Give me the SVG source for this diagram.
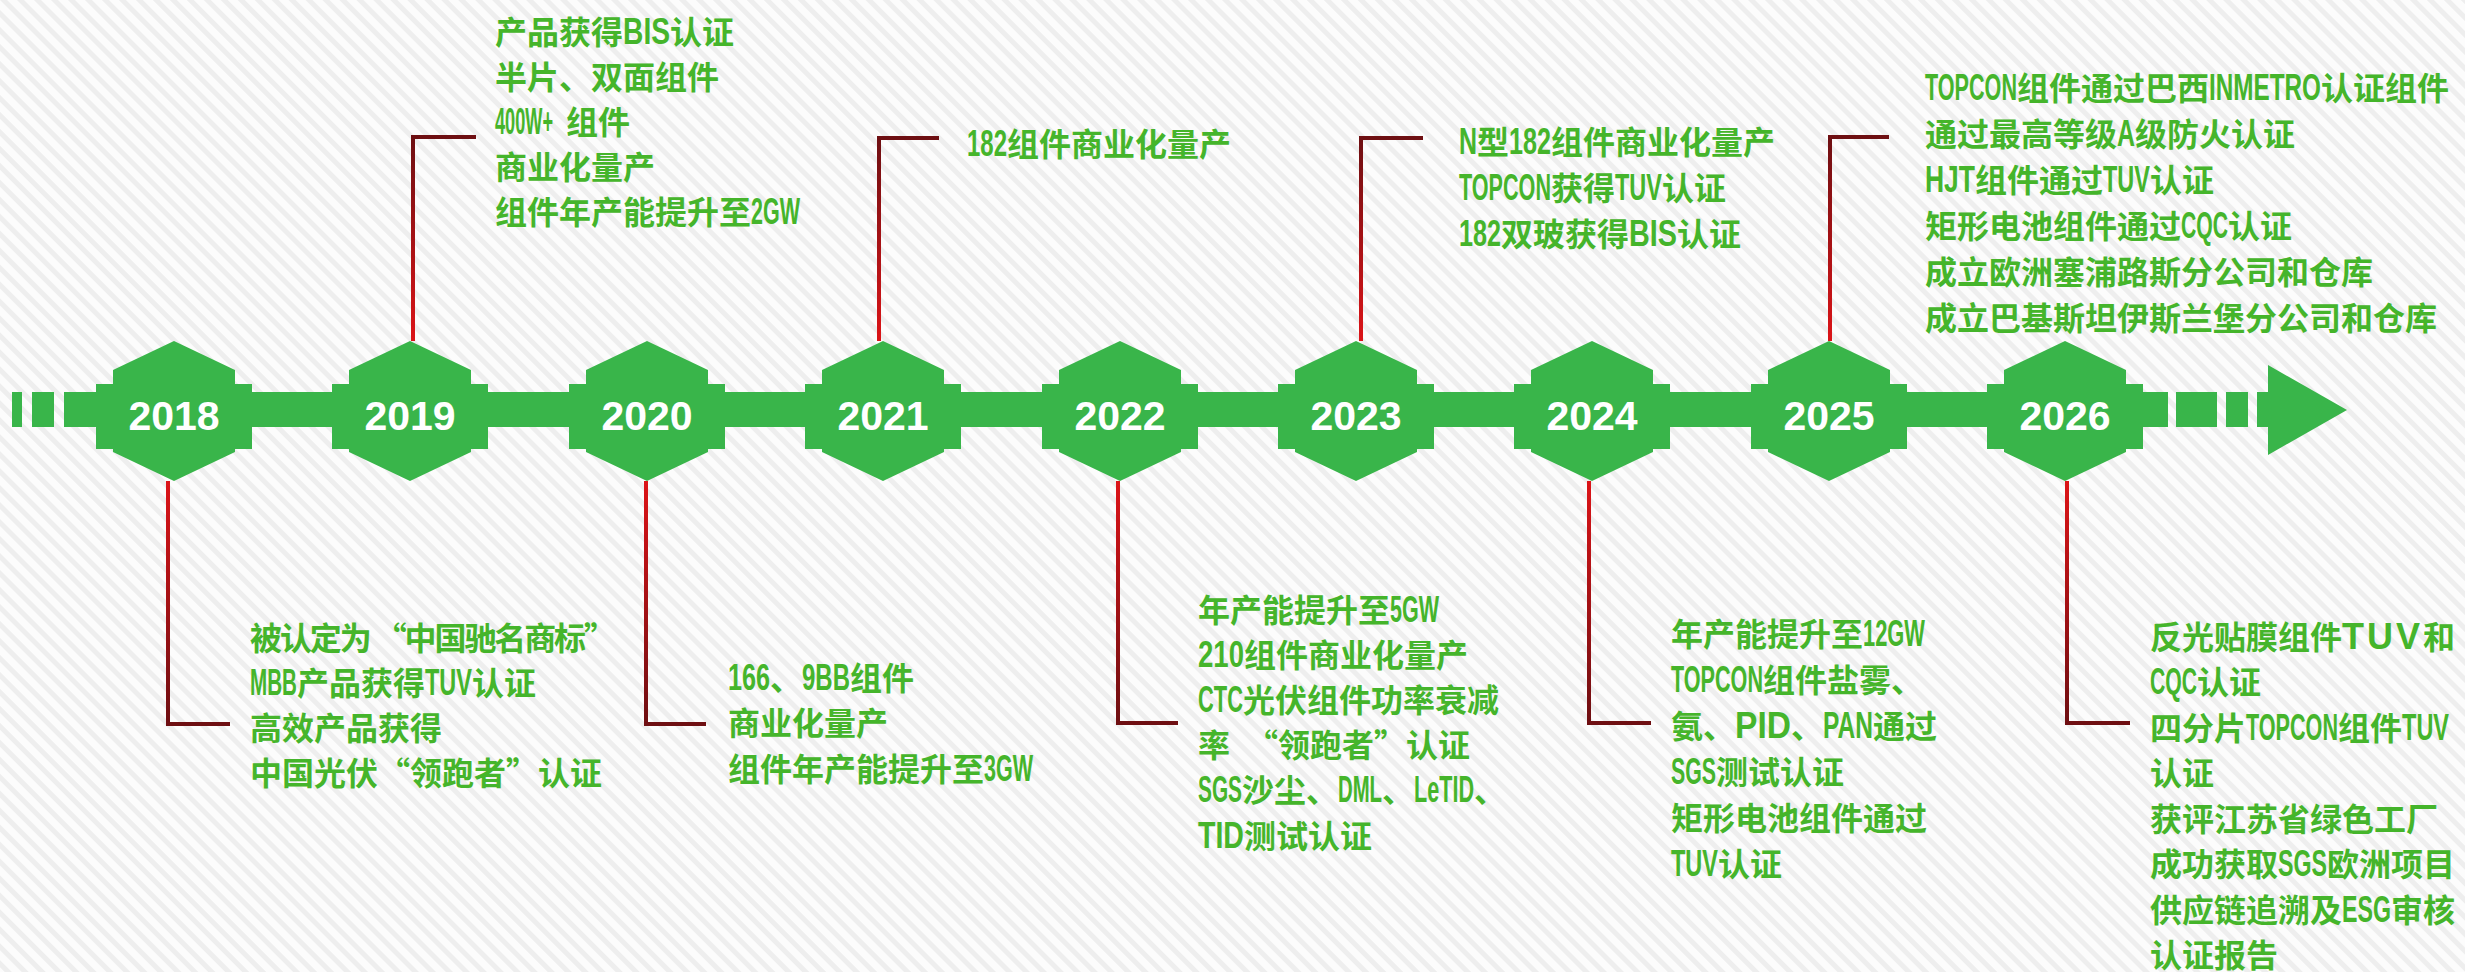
<svg xmlns="http://www.w3.org/2000/svg" width="2465" height="972" viewBox="0 0 2465 972">
<defs>
<pattern id="stripes" width="12" height="12" patternUnits="userSpaceOnUse" patternTransform="rotate(-45)">
<rect width="12" height="12" fill="#fcfcfc"/>
<rect width="5" height="12" fill="#eeeeee"/>
</pattern>
<linearGradient id="gUp" x1="0" y1="0" x2="0" y2="1">
<stop offset="0" stop-color="#6e0f12"/>
<stop offset="1" stop-color="#dc1418"/>
</linearGradient>
<linearGradient id="gDown" x1="0" y1="0" x2="0" y2="1">
<stop offset="0" stop-color="#dc1418"/>
<stop offset="1" stop-color="#6e0f12"/>
</linearGradient>
<path id="hex" d="M0,341 L61,370 L61,384 L78,384 L78,449 L61,449 L61,452 L0,481 L-61,452 L-61,449 L-78,449 L-78,384 L-61,384 L-61,370 Z"/>
</defs>
<style>
.g{fill:#39b54a}
.yr{font-family:"Liberation Sans",Arial,sans-serif;font-size:41px;font-weight:700;fill:#ffffff;text-anchor:middle}
.t{font-family:"Noto Sans CJK SC","Noto Sans CJK TC",sans-serif;font-size:32px;font-weight:700;fill:#45b52b}
.l{font-family:"Liberation Sans",Arial,sans-serif;font-size:36px;font-weight:700}
.cu{fill:none;stroke:url(#gUp);stroke-width:4}
.cd{fill:none;stroke:url(#gDown);stroke-width:4}
</style>
<rect width="2465" height="972" fill="url(#stripes)"/>

<g id="timeline">
<rect class="g" x="12" y="392" width="10" height="35"/>
<rect class="g" x="32" y="392" width="22" height="35"/>
<rect class="g" x="64" y="392" width="2104" height="35"/>
<rect class="g" x="2176" y="392" width="41" height="35"/>
<rect class="g" x="2226" y="392" width="22" height="35"/>
<polygon class="g" points="2257,392 2268,392 2268,365 2347,410 2268,455 2268,427 2257,427"/>
</g>

<g id="connectors">
<path class="cu" d="M413,341 V137 H476"/>
<path class="cu" d="M879,341 V138 H939"/>
<path class="cu" d="M1361,341 V138 H1423"/>
<path class="cu" d="M1830,341 V137 H1889"/>
<path class="cd" d="M168,481 V724 H230"/>
<path class="cd" d="M646,481 V724 H706"/>
<path class="cd" d="M1118,481 V723 H1178"/>
<path class="cd" d="M1589,481 V723 H1651"/>
<path class="cd" d="M2067,481 V723 H2130"/>
</g>

<g id="n2018">
<use href="#hex" x="174" class="g"/>
<text class="yr" x="174" y="430">2018</text>
<text class="t" x="250" y="650" textLength="366" lengthAdjust="spacing">被认定为 “中国驰名商标”</text>
<text class="t" x="250" y="695"><tspan class="l" textLength="47" lengthAdjust="spacingAndGlyphs">MBB</tspan>产品获得<tspan class="l" textLength="47" lengthAdjust="spacingAndGlyphs">TUV</tspan>认证</text>
<text class="t" x="250" y="740">高效产品获得</text>
<text class="t" x="250" y="785">中国光伏“领跑者”认证</text>
</g>

<g id="n2019">
<use href="#hex" x="410" class="g"/>
<text class="yr" x="410" y="430">2019</text>
<text class="t" x="495" y="44">产品获得<tspan class="l" textLength="47" lengthAdjust="spacingAndGlyphs">BIS</tspan>认证</text>
<text class="t" x="495" y="89">半片、双面组件</text>
<text class="t" x="495" y="134"><tspan class="l" textLength="58" lengthAdjust="spacingAndGlyphs">400W+</tspan><tspan x="566">组件</tspan></text>
<text class="t" x="495" y="179">商业化量产</text>
<text class="t" x="495" y="224">组件年产能提升至<tspan class="l" textLength="49" lengthAdjust="spacingAndGlyphs">2GW</tspan></text>
</g>

<g id="n2020">
<use href="#hex" x="647" class="g"/>
<text class="yr" x="647" y="430">2020</text>
<text class="t" x="728" y="690"><tspan class="l" textLength="42" lengthAdjust="spacingAndGlyphs">166</tspan>、<tspan class="l" textLength="48" lengthAdjust="spacingAndGlyphs">9BB</tspan>组件</text>
<text class="t" x="728" y="735">商业化量产</text>
<text class="t" x="728" y="781">组件年产能提升至<tspan class="l" textLength="49" lengthAdjust="spacingAndGlyphs">3GW</tspan></text>
</g>

<g id="n2021">
<use href="#hex" x="883" class="g"/>
<text class="yr" x="883" y="430">2021</text>
<text class="t" x="967" y="156"><tspan class="l" textLength="40" lengthAdjust="spacingAndGlyphs">182</tspan>组件商业化量产</text>
</g>

<g id="n2022">
<use href="#hex" x="1120" class="g"/>
<text class="yr" x="1120" y="430">2022</text>
<text class="t" x="1198" y="622">年产能提升至<tspan class="l" textLength="49" lengthAdjust="spacingAndGlyphs">5GW</tspan></text>
<text class="t" x="1198" y="667"><tspan class="l" textLength="46" lengthAdjust="spacingAndGlyphs">210</tspan>组件商业化量产</text>
<text class="t" x="1198" y="712"><tspan class="l" textLength="45" lengthAdjust="spacingAndGlyphs">CTC</tspan>光伏组件功率衰减</text>
<text class="t" x="1198" y="757">率　“领跑者”认证</text>
<text class="t" x="1198" y="802"><tspan class="l" textLength="44" lengthAdjust="spacingAndGlyphs">SGS</tspan>沙尘、<tspan class="l" textLength="44" lengthAdjust="spacingAndGlyphs">DML</tspan>、<tspan class="l" textLength="60" lengthAdjust="spacingAndGlyphs">LeTID</tspan>、</text>
<text class="t" x="1198" y="848"><tspan class="l" textLength="46" lengthAdjust="spacingAndGlyphs">TID</tspan>测试认证</text>
</g>

<g id="n2023">
<use href="#hex" x="1356" class="g"/>
<text class="yr" x="1356" y="430">2023</text>
<text class="t" x="1459" y="154"><tspan class="l" textLength="18" lengthAdjust="spacingAndGlyphs">N</tspan>型<tspan class="l" textLength="42" lengthAdjust="spacingAndGlyphs">182</tspan>组件商业化量产</text>
<text class="t" x="1459" y="200"><tspan class="l" textLength="92" lengthAdjust="spacingAndGlyphs">TOPCON</tspan>获得<tspan class="l" textLength="47" lengthAdjust="spacingAndGlyphs">TUV</tspan>认证</text>
<text class="t" x="1459" y="246"><tspan class="l" textLength="42" lengthAdjust="spacingAndGlyphs">182</tspan>双玻获得<tspan class="l" textLength="48" lengthAdjust="spacingAndGlyphs">BIS</tspan>认证</text>
</g>

<g id="n2024">
<use href="#hex" x="1592" class="g"/>
<text class="yr" x="1592" y="430">2024</text>
<text class="t" x="1671" y="646">年产能提升至<tspan class="l" textLength="62" lengthAdjust="spacingAndGlyphs">12GW</tspan></text>
<text class="t" x="1671" y="692"><tspan class="l" textLength="92" lengthAdjust="spacingAndGlyphs">TOPCON</tspan>组件盐雾、</text>
<text class="t" x="1671" y="738">氨、<tspan class="l" textLength="56" lengthAdjust="spacingAndGlyphs">PID</tspan>、<tspan class="l" textLength="50" lengthAdjust="spacingAndGlyphs">PAN</tspan>通过</text>
<text class="t" x="1671" y="784"><tspan class="l" textLength="45" lengthAdjust="spacingAndGlyphs">SGS</tspan>测试认证</text>
<text class="t" x="1671" y="830">矩形电池组件通过</text>
<text class="t" x="1671" y="876"><tspan class="l" textLength="47" lengthAdjust="spacingAndGlyphs">TUV</tspan>认证</text>
</g>

<g id="n2025">
<use href="#hex" x="1829" class="g"/>
<text class="yr" x="1829" y="430">2025</text>
<text class="t" x="1925" y="100"><tspan class="l" textLength="92" lengthAdjust="spacingAndGlyphs">TOPCON</tspan>组件通过巴西<tspan class="l" textLength="112" lengthAdjust="spacingAndGlyphs">INMETRO</tspan>认证组件</text>
<text class="t" x="1925" y="146">通过最高等级<tspan class="l" textLength="18" lengthAdjust="spacingAndGlyphs">A</tspan>级防火认证</text>
<text class="t" x="1925" y="192"><tspan class="l" textLength="50" lengthAdjust="spacingAndGlyphs">HJT</tspan>组件通过<tspan class="l" textLength="47" lengthAdjust="spacingAndGlyphs">TUV</tspan>认证</text>
<text class="t" x="1925" y="238">矩形电池组件通过<tspan class="l" textLength="47" lengthAdjust="spacingAndGlyphs">CQC</tspan>认证</text>
<text class="t" x="1925" y="284">成立欧洲塞浦路斯分公司和仓库</text>
<text class="t" x="1925" y="330">成立巴基斯坦伊斯兰堡分公司和仓库</text>
</g>

<g id="n2026">
<use href="#hex" x="2065" class="g"/>
<text class="yr" x="2065" y="430">2026</text>
<text class="t" x="2150" y="649">反光贴膜组件<tspan class="l" textLength="78" lengthAdjust="spacing">TUV</tspan>和</text>
<text class="t" x="2150" y="694"><tspan class="l" textLength="47" lengthAdjust="spacingAndGlyphs">CQC</tspan>认证</text>
<text class="t" x="2150" y="740">四分片<tspan class="l" textLength="92" lengthAdjust="spacingAndGlyphs">TOPCON</tspan>组件<tspan class="l" textLength="47" lengthAdjust="spacingAndGlyphs">TUV</tspan></text>
<text class="t" x="2150" y="785">认证</text>
<text class="t" x="2150" y="831">获评江苏省绿色工厂</text>
<text class="t" x="2150" y="876">成功获取<tspan class="l" textLength="49" lengthAdjust="spacingAndGlyphs">SGS</tspan>欧洲项目</text>
<text class="t" x="2150" y="922">供应链追溯及<tspan class="l" textLength="49" lengthAdjust="spacingAndGlyphs">ESG</tspan>审核</text>
<text class="t" x="2150" y="967">认证报告</text>
</g>
</svg>
